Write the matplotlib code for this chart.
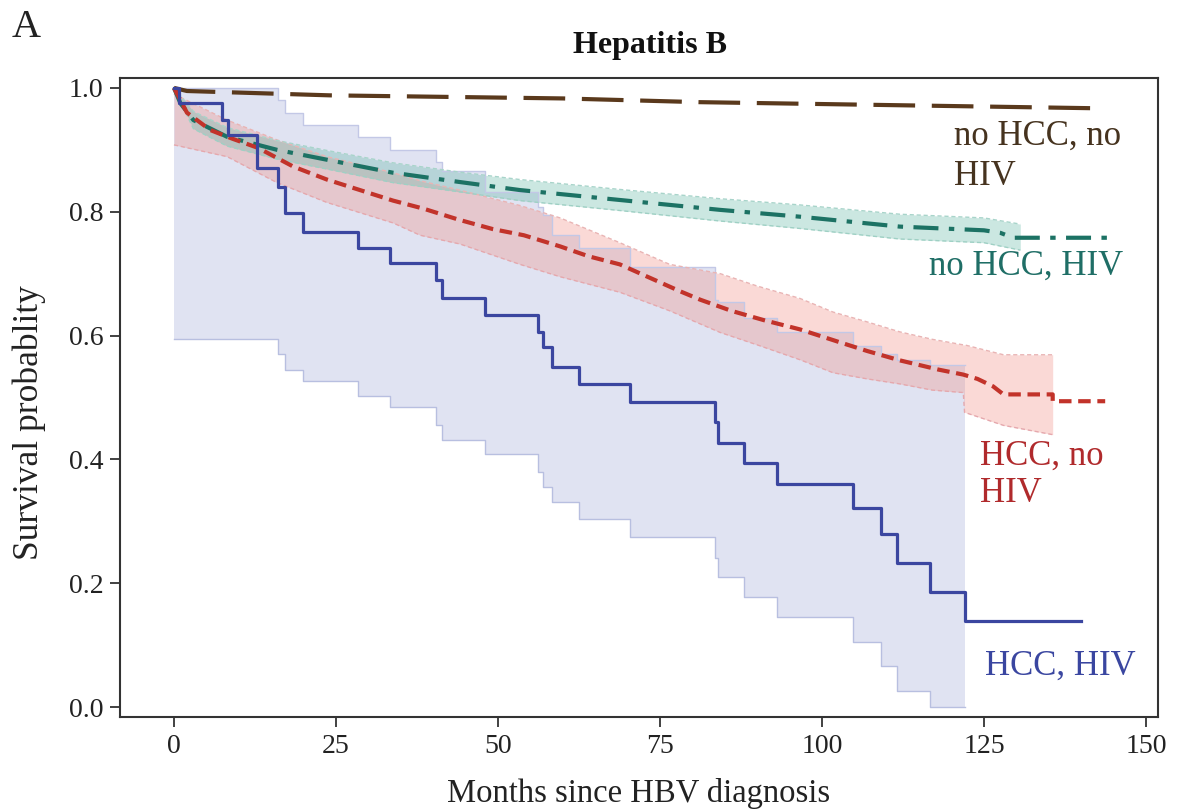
import numpy as np
import matplotlib.pyplot as plt

plt.rcParams['font.family'] = ['Liberation Serif', 'DejaVu Serif']

# HCC, HIV (Kaplan-Meier steps)
hiv_hcc_t = [0, 0.7, 7.4, 8.3, 12.8, 16.0, 17.1, 19.9, 28.4, 33.3, 40.4, 41.3, 48.0,
             56.2, 57.0, 58.3, 62.5, 70.4, 83.5, 84.0, 88.0, 93.0, 104.8, 109.1,
             111.6, 116.7, 122.1, 140]
hiv_hcc_s = [1.0, 0.976, 0.948, 0.924, 0.871, 0.84, 0.798, 0.768, 0.742, 0.717, 0.69,
             0.661, 0.634, 0.606, 0.582, 0.55, 0.521, 0.492, 0.46, 0.427, 0.395, 0.361,
             0.321, 0.279, 0.232, 0.186, 0.139, 0.139]
hiv_hcc_lo = [0.594, 0.594, 0.594, 0.594, 0.594, 0.57, 0.545, 0.526, 0.502, 0.484, 0.456,
              0.432, 0.408, 0.379, 0.355, 0.331, 0.303, 0.274, 0.24, 0.21, 0.177, 0.145,
              0.105, 0.066, 0.026, 0.0, 0.0]
hiv_hcc_hi = [1.0, 1.0, 1.0, 1.0, 1.0, 0.98, 0.96, 0.94, 0.921, 0.90, 0.881, 0.865, 0.832,
              0.808, 0.795, 0.763, 0.742, 0.71, 0.658, 0.655, 0.629, 0.605, 0.583, 0.57,
              0.56, 0.553, 0.553]

# HCC, no HIV
hcc_t = [0, 2, 5.6, 9, 13, 18.4, 23.6, 28.7, 33.8, 38.5, 44, 49.2, 54, 59.6, 64, 68.8,
         73.5, 78, 81.2, 86, 91, 96.6, 102.8, 107, 112, 118, 121.8, 124, 126.4, 128,
         135.6, 135.6, 143.7]
hcc_s = [1.0, 0.96, 0.932, 0.918, 0.903, 0.873, 0.852, 0.835, 0.818, 0.805, 0.787, 0.772,
         0.762, 0.744, 0.728, 0.715, 0.693, 0.672, 0.658, 0.64, 0.625, 0.61, 0.589, 0.575,
         0.56, 0.545, 0.537, 0.53, 0.518, 0.505, 0.505, 0.494, 0.494]
hcc_band_t = [0, 8.2, 15.9, 23.6, 33.8, 38, 44.1, 53.4, 59.6, 68.8, 76.5, 84.3, 90, 96.6,
              101.7, 107, 112, 117, 121.8, 122, 128, 135.6]
hcc_hi = [0.99, 0.948, 0.916, 0.889, 0.863, 0.85, 0.835, 0.81, 0.79, 0.75, 0.715, 0.70,
          0.68, 0.66, 0.638, 0.622, 0.606, 0.594, 0.585, 0.585, 0.569, 0.569]
hcc_lo = [0.908, 0.889, 0.847, 0.815, 0.782, 0.762, 0.748, 0.715, 0.695, 0.67, 0.64,
          0.605, 0.585, 0.561, 0.54, 0.53, 0.522, 0.512, 0.508, 0.476, 0.455, 0.44]

# no HCC, HIV
hiv_t = [0, 1, 3, 8.2, 15.9, 23.6, 33.8, 44.1, 53.4, 68.8, 84.3, 96.6, 112, 125, 127.5,
         129.5, 144.1]
hiv_s = [1.0, 0.975, 0.948, 0.921, 0.9, 0.884, 0.863, 0.848, 0.835, 0.819, 0.803, 0.792,
         0.776, 0.77, 0.766, 0.758, 0.758]
hiv_band_t = [0, 3, 8.2, 15.9, 23.6, 33.8, 44.1, 53.4, 68.8, 84.3, 96.6, 112, 125, 130.6]
hiv_hi = [1.0, 0.962, 0.936, 0.915, 0.899, 0.879, 0.864, 0.852, 0.836, 0.821, 0.811,
          0.796, 0.79, 0.78]
hiv_lo = [1.0, 0.934, 0.906, 0.885, 0.869, 0.847, 0.832, 0.818, 0.802, 0.785, 0.773,
          0.756, 0.75, 0.738]

# no HCC, no HIV
none_t = [0, 2, 24, 60, 81, 143]
none_s = [1.0, 0.995, 0.988, 0.983, 0.977, 0.967]

c_blue = '#3b46a0'
c_red = '#c2332a'
c_green = '#1c7264'
c_brown = '#5a391c'

fig = plt.figure(figsize=(11.78, 8.11), dpi=100)
ax = fig.add_axes([120 / 1178, 1 - 717 / 811, 1038 / 1178, 639 / 811])

# confidence bands
ax.fill_between(hiv_hcc_t[:-1], hiv_hcc_lo, hiv_hcc_hi, step='post',
                color='#a9b3dc', alpha=0.36, lw=0)
ax.step(hiv_hcc_t[:-1], hiv_hcc_lo, where='post', color='#b8bfe0', lw=1)
ax.step(hiv_hcc_t[:-1], hiv_hcc_hi, where='post', color='#c3c8e6', lw=1)

ax.fill_between(hcc_band_t, hcc_lo, hcc_hi, color='#f08e84', alpha=0.33, lw=0)
ax.plot(hcc_band_t, hcc_lo, color='#e5a8ad', lw=1, ls=(0, (3, 2)))
ax.plot(hcc_band_t, hcc_hi, color='#e9b4b4', lw=1, ls=(0, (3, 2)))

ax.fill_between(hiv_band_t, hiv_lo, hiv_hi, color='#62b8a6', alpha=0.33, lw=0)
ax.plot(hiv_band_t, hiv_lo, color='#9fd0c4', lw=1, ls=(0, (3, 2)))
ax.plot(hiv_band_t, hiv_hi, color='#a8d4ca', lw=1, ls=(0, (3, 2)))

# survival curves
ax.plot(none_t, none_s, color=c_brown, lw=3, ls=(0, (10, 4)))
ax.plot(hiv_t, hiv_s, color=c_green, lw=3, ls=(0, (6, 2.5, 1.3, 2.5)))
ax.plot(hcc_t, hcc_s, color=c_red, lw=3, ls=(0, (3, 1.6)))
ax.step(hiv_hcc_t, hiv_hcc_s, where='post', color=c_blue, lw=2.3)

# curve labels
lab = dict(fontsize=25, ha='left', va='baseline')
ax.text(120.4, 0.908, 'no HCC, no', color='#46331f', **lab)
ax.text(120.4, 0.8435, 'HIV', color='#46331f', **lab)
ax.text(116.5, 0.698, 'no HCC, HIV', color='#1f6e66', **lab)
ax.text(124.4, 0.392, 'HCC, no', color='#b02a2c', **lab)
ax.text(124.4, 0.331, 'HIV', color='#b02a2c', **lab)
ax.text(125.2, 0.053, 'HCC, HIV', color='#3a46a0', **lab)

ax.set_xlim(-8.33, 151.85)
ax.set_ylim(-0.016, 1.016)
ax.set_xticks([0, 25, 50, 75, 100, 125, 150])
ax.set_yticks([0.0, 0.2, 0.4, 0.6, 0.8, 1.0])
ax.set_yticklabels(['0.0', '0.2', '0.4', '0.6', '0.8', '1.0'])
ax.tick_params(length=7, width=1.3, color='#333333', labelsize=20,
               labelcolor='#222222', pad=5)
for sp in ax.spines.values():
    sp.set_color('#333333')
    sp.set_linewidth(1.5)

ax.set_xlabel('Months since HBV diagnosis', fontsize=23.5, color='#222222', labelpad=14)
ax.set_ylabel('Survival probablity', fontsize=25.5, color='#222222')
ax.yaxis.set_label_coords(-0.071, 0.46)
fig.text(650 / 1178, 1 - 45 / 811, 'Hepatitis B', fontsize=23, fontweight='bold',
         ha='center', va='center', color='#111111')
fig.text(12 / 1178, 1 - 37 / 811, 'A', fontsize=29, ha='left', va='baseline',
         color='#222222')

fig.savefig('out.png', dpi=100)
